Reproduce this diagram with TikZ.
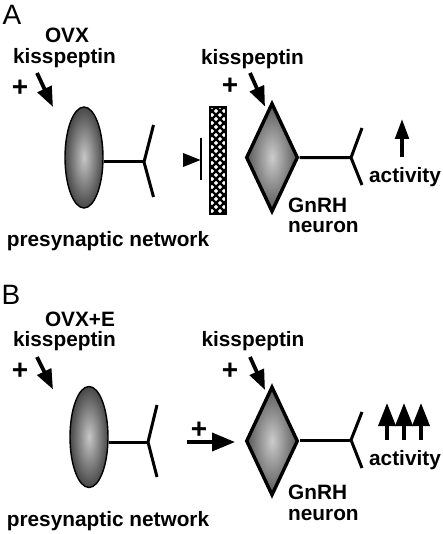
\documentclass[tikz,border=0pt]{standalone}
\usepackage{fontspec}
\setmainfont{Liberation Sans}
\usetikzlibrary{arrows.meta,shapes.geometric}
\begin{document}
\begin{tikzpicture}[x=1pt,y=-1pt,
  lbl/.style={font=\fontsize{20.8}{22}\selectfont\bfseries, inner sep=0pt},
  pluslbl/.style={font=\fontsize{28}{28}\selectfont\bfseries, inner sep=0pt},
  panel/.style={font=\fontsize{28}{30}\selectfont, inner sep=0pt},
  kiss/.style={line width=3.8pt, -{Triangle[length=20pt,width=15pt]}},
  uparrow/.style={line width=3.6pt, -{Triangle[length=20pt,width=13.5pt]}},
  uparrowbig/.style={line width=3.6pt, -{Triangle[length=23pt,width=17pt]}},
  excite/.style={line width=3.6pt, -{Triangle[length=23pt,width=18pt]}},
  wire/.style={line width=3pt},
  soma/.style={ellipse, draw, line width=1.4pt, inner sep=0pt,
    minimum width=38pt, minimum height=101pt,
    inner color=black!22, outer color=black!72},
  gnrh/.style={diamond, draw, line width=3.4pt, inner sep=0pt, line join=miter,
    minimum width=52pt, minimum height=109pt,
    inner color=black!20, outer color=black!66}
]
\useasboundingbox (0,0) rectangle (443,534);

% ---------------- Panel A ----------------
\node[panel] (labA) at (12,15) {A};
\node[lbl] (ovxA) at (67,35.5) {OVX};
\node[lbl] (kissA1) at (64.5,58.5) {kisspeptin};
\node[pluslbl] (plusA1) at (20,88) {+};
\coordinate (kA1s) at (37,73);
\coordinate (kA1e) at (53,107);
\draw[kiss] (kA1s) -- (kA1e);

\node[soma] (somaA) at (84,157.5) {};
\coordinate (jA1) at (144,162);
\coordinate (fA1t) at (153.5,125);
\coordinate (fA1b) at (153.5,197);
\draw[wire] (somaA.east |- jA1) -- (jA1);
\draw[wire] (fA1t) -- (jA1) -- (fA1b);

\node[lbl] (preA) at (108,241.5) {presynaptic network};

% inhibition symbol
\coordinate (barAt) at (201,138);
\coordinate (barAb) at (201,180);
\draw[line width=1.7pt] (barAt) -- (barAb);
\fill (183,153) -- (200.5,160) -- (183,167) -- cycle;

% crosshatched block
\coordinate (blkA1) at (210,107);
\coordinate (blkA2) at (226,214);
\fill[white] (blkA1) rectangle (blkA2);
\begin{scope}
  \clip (blkA1) rectangle (blkA2);
  \foreach \i in {-24,-16,...,240} {
    \draw[line width=2.3pt] (200,107+\i) -- ++(40,40);
    \draw[line width=2.3pt] (200,107+\i) -- ++(40,-40);
  }
\end{scope}
\draw[line width=1.6pt] (blkA1) rectangle (blkA2);

\node[lbl] (kissA2) at (252.5,59) {kisspeptin};
\node[pluslbl] (plusA2) at (230,86) {+};
\coordinate (kA2s) at (250,73);
\coordinate (kA2e) at (265,106.5);
\draw[kiss] (kA2s) -- (kA2e);

\node[gnrh] (gA) at (272,157.5) {};
\coordinate (jA2) at (351,157.7);
\coordinate (fA2t) at (362,128);
\coordinate (fA2b) at (362,185);
\draw[wire] (gA.east) -- (jA2);
\draw[wire] (fA2t) -- (jA2) -- (fA2b);

\coordinate (upAs) at (402,157);
\coordinate (upAe) at (402,119);
\draw[uparrow] (upAs) -- (upAe);
\node[lbl] (actA) at (405,177.5) {activity};
\node[lbl, anchor=west] (gnA) at (288,205.5) {GnRH};
\node[lbl, anchor=west] (neA) at (288,227.5) {neuron};

% ---------------- Panel B ----------------
\node[panel] (labB) at (11,295) {B};
\node[lbl] (ovxB) at (80,319.5) {OVX+E};
\node[lbl] (kissB1) at (64.5,341.5) {kisspeptin};
\node[pluslbl] (plusB1) at (20,371) {+};
\coordinate (kB1s) at (37,357);
\coordinate (kB1e) at (53,389.5);
\draw[kiss] (kB1s) -- (kB1e);

\node[soma] (somaB) at (89,437) {};
\coordinate (jB1) at (148,442);
\coordinate (fB1t) at (157,405);
\coordinate (fB1b) at (157,477);
\draw[wire] (somaB.east |- jB1) -- (jB1);
\draw[wire] (fB1t) -- (jB1) -- (fB1b);

\node[lbl] (preB) at (108,521.5) {presynaptic network};

\node[pluslbl] (plusB3) at (199,430) {+};
\coordinate (exBs) at (187,442);
\coordinate (exBe) at (235,442);
\draw[excite] (exBs) -- (exBe);

\node[lbl] (kissB2) at (253,341.5) {kisspeptin};
\node[pluslbl] (plusB2) at (230,371) {+};
\coordinate (kB2s) at (250,357);
\coordinate (kB2e) at (265,390);
\draw[kiss] (kB2s) -- (kB2e);

\node[gnrh] (gB) at (272,441) {};
\coordinate (jB2) at (351,440);
\coordinate (fB2t) at (362,412);
\coordinate (fB2b) at (362,468);
\draw[wire] (gB.east |- jB2) -- (jB2);
\draw[wire] (fB2t) -- (jB2) -- (fB2b);

\foreach \x/\n in {387/1,404/2,421/3} {
  \coordinate (upB\n s) at (\x,440);
  \coordinate (upB\n e) at (\x,403);
  \draw[uparrowbig] (upB\n s) -- (upB\n e);
}
\node[lbl] (actB) at (405,460.5) {activity};
\node[lbl, anchor=west] (gnB) at (288,492.5) {GnRH};
\node[lbl, anchor=west] (neB) at (288,514.5) {neuron};
\end{tikzpicture}
\end{document}
